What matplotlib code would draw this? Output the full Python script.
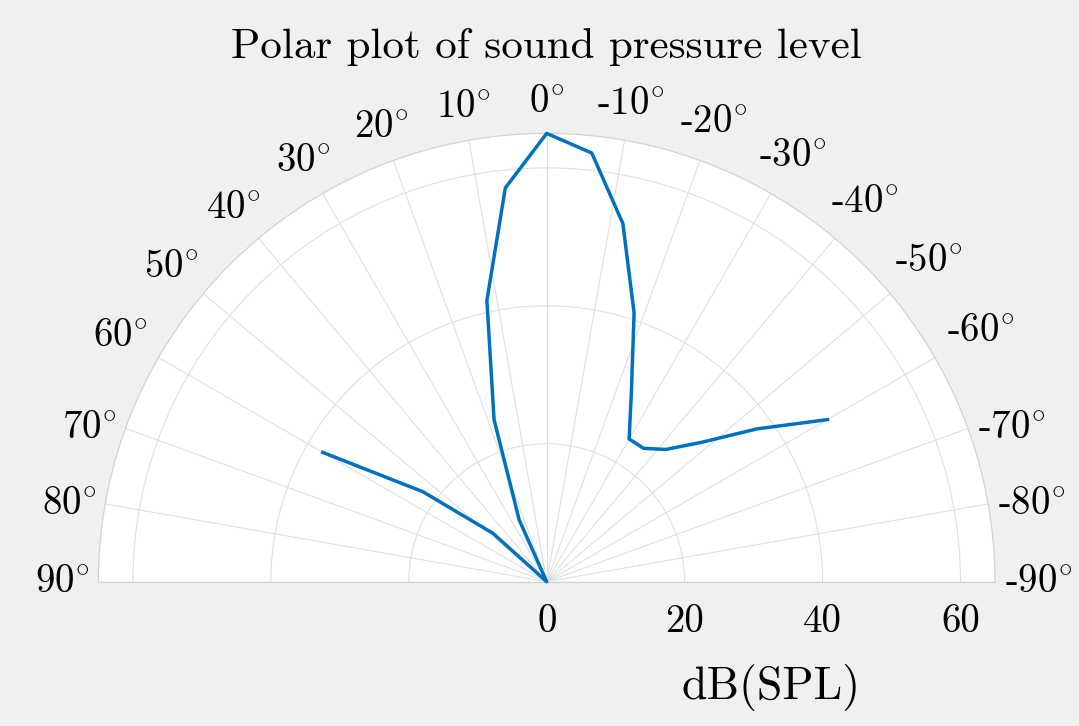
import matplotlib as mpl
mpl.use('Agg')
import matplotlib.pyplot as plt
import numpy as np

plt.rcParams['mathtext.fontset'] = 'cm'
plt.rcParams['font.family'] = ['cmr10', 'DejaVu Serif']

# measured angles (deg) and sound pressure level (dB SPL)
angles_deg = [-60, -54, -48, -42, -36, -30, -24, -18, -12, -6, 0,
              6, 12, 18, 24, 30, 36, 42, 48, 54, 60]
spl_db = [47.0, 37.7, 30.2, 25.8, 23.9, 23.9, 30.2, 41.0, 53.1, 62.5, 65.0,
          57.4, 41.7, 24.7, 9.8, 0.0, 0.0, 0.0, 10.5, 22.2, 37.5]

theta_ticks = list(range(-90, 91, 10))
r_ticks = [0, 20, 40, 60]
r_max = 65

title = 'Polar plot of sound pressure level'
r_label = 'dB(SPL)'

W, H = 1079, 726
fig = plt.figure(figsize=(W / 100, H / 100), dpi=100)
fig.patch.set_facecolor('#f0f0f0')

# centre of the half circle and its radius in pixels;
# matplotlib pads the half-disc wedge to a square box
cx, cy, R = 546.7, 581.7, 448.3
ax = fig.add_axes([(cx - R) / W, (H - cy - R / 2) / H, 2 * R / W, 2 * R / H],
                  projection='polar')
ax.set_facecolor('white')
ax.set_theta_zero_location('N')
ax.set_thetamin(-90)
ax.set_thetamax(90)
ax.set_rlim(0, r_max)

ax.set_xticks(np.deg2rad(theta_ticks))
ax.set_xticklabels([])
ax.set_yticks(r_ticks[1:])
ax.set_yticklabels([])
ax.tick_params(length=0)
ax.grid(True, color='#dfdfdf', linewidth=0.8)
for sp in ax.spines.values():
    sp.set_color('#d2d2d2')
    sp.set_linewidth(0.9)

ax.plot(np.deg2rad(angles_deg), spl_db, color='#0072BD', linewidth=2.5,
        solid_joinstyle='round', clip_on=False, zorder=5)

# theta labels placed just outside the edge (MATLAB-like layout)
px2pt = 72 / fig.dpi
for a in theta_ticks:
    s = ('-' if a < 0 else '') + '$%d^{\\circ}$' % abs(a)
    ux, uy = -np.sin(np.deg2rad(a)), np.cos(np.deg2rad(a))
    if abs(a) >= 70:
        # side labels sit level with the end of their spoke
        off = (-36 if a > 0 else 44) * px2pt
        xy_off = (off, 0)
    else:
        if a >= 0:
            d = 480 + 0.2 * abs(a) - R
        else:
            d = 482 + 0.33 * abs(a) - R
        xy_off = (ux * d * px2pt, uy * d * px2pt)
    ax.annotate(s, xy=(np.deg2rad(a), r_max),
                xytext=xy_off, textcoords='offset points',
                ha='center', va='center', fontsize=28,
                annotation_clip=False)

# radial labels along the baseline
for v in r_ticks:
    ax.annotate(str(v), xy=(np.deg2rad(-90), v), xytext=(0, -16),
                textcoords='offset points', ha='center', va='top',
                fontsize=28, annotation_clip=False)

ax.annotate(r_label, xy=(np.deg2rad(-90), r_max / 2), xytext=(0, -76),
            textcoords='offset points', ha='center', va='center',
            fontsize=33, annotation_clip=False)

fig.text(cx / W, 1 - 58 / H, title, ha='center', va='baseline', fontsize=31)

fig.savefig('out.png', dpi=100, facecolor=fig.get_facecolor())
